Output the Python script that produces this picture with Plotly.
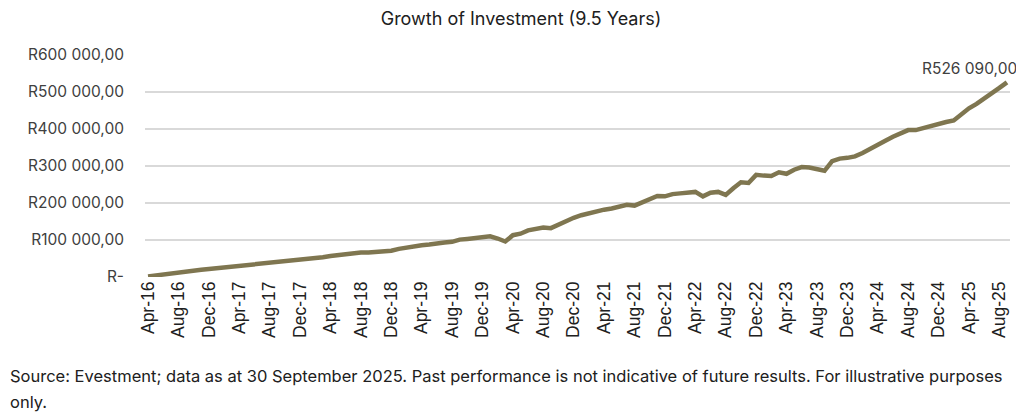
import plotly.graph_objects as go
import pandas as pd

# monthly points, Apr-16 .. Sep-25
months = [d.strftime("%b-%y") for d in pd.date_range("2016-04-01", "2025-09-01", freq="MS")]

values = [
    1600, 4500, 7500, 10000, 12500, 15500, 17500, 19500, 21500, 23500,
    25500, 27500, 29000, 31000, 33000, 35500, 38000, 41000, 44000, 45500,
    47000, 48500, 51000, 53500, 57000, 59500, 62000, 66000, 66000, 66500,
    67000, 67500, 71000, 76000, 80000, 84000, 86000, 88000, 92000, 93500,
    95000, 101000, 103000, 105000, 109000, 110000, 104000, 96000, 113000, 117000,
    126000, 131000, 134000, 132000, 142000, 152000, 160000, 167000, 173000, 178000,
    182000, 185000, 190000, 195000, 193000, 201000, 210000, 219000, 218000, 224000,
    226000, 227000, 230000, 218000, 228000, 230000, 222000, 240000, 256000, 254000,
    276000, 274000, 273000, 283000, 279000, 290000, 297000, 296000, 290000, 287000,
    313000, 320000, 322000, 326000, 335000, 345000, 356000, 368000, 379000, 388000,
    397000, 397000, 403000, 409000, 414000, 419000, 423000, 440000, 456000, 468000,
    482000, 494000, 511000, 526090,
]

y_ticks = [0, 100000, 200000, 300000, 400000, 500000, 600000]
y_labels = ["R-", "R100 000,00", "R200 000,00", "R300 000,00",
            "R400 000,00", "R500 000,00", "R600 000,00"]

end_label = "R526 090,00"
title = "Growth of Investment (9.5 Years)"
foot_lines = [
    "Source: Evestment; data as at 30 September 2025. Past performance is not "
    "indicative of future results. For illustrative purposes",
    "only.",
]

line_color = "#7f7650"
text_color = "#404040"
font = "Inter, sans-serif"

# the page body has an 8px margin, so the figure is drawn 8px in from the top-left
W, H = 1016, 409
ml, mr, mt, mb = 137, 14, 47, 139.5

fig = go.Figure()
fig.add_trace(go.Scatter(
    x=months,
    y=values,
    mode="lines",
    line=dict(color=line_color, width=4.5),
    hoverinfo="x+y",
))

fig.add_annotation(
    x=months[-1], y=values[-1],
    text=end_label,
    showarrow=False,
    xanchor="right", yanchor="bottom",
    xshift=12, yshift=2,
    font=dict(family=font, size=15.5, color=text_color),
)

# footnote lines, placed in figure pixels from the top-left
plot_w = W - ml - mr
plot_h = H - mt - mb
for txt, py in zip(foot_lines, [369, 395]):
    fig.add_annotation(
        x=(0 - ml) / plot_w, y=(H - mb - py) / plot_h,
        xref="paper", yref="paper",
        xanchor="left", yanchor="middle",
        text=txt, showarrow=False,
        font=dict(family=font, size=16.5, color="#202020"),
    )

fig.update_layout(
    width=W, height=H,
    margin=dict(l=ml, r=mr, t=mt, b=mb, autoexpand=False),
    paper_bgcolor="white",
    plot_bgcolor="white",
    showlegend=False,
    title=dict(text=title, x=513 / W, xanchor="center", y=1 - 11 / H, yanchor="middle",
               font=dict(family=font, size=18, color="#202020")),
    xaxis=dict(
        type="category",
        automargin=False,
        range=[-0.4, len(months) - 0.6],
        tickmode="array",
        tickvals=months[::4],
        ticktext=months[::4],
        tickangle=-90,
        showgrid=False,
        showline=False,
        ticks="",
        tickfont=dict(family="Liberation Sans, Arial, sans-serif", size=17.5, color="#202020"),
    ),
    yaxis=dict(
        automargin=False,
        range=[0, 600000],
        tickmode="array",
        tickvals=y_ticks,
        ticktext=y_labels,
        showgrid=True,
        gridcolor="#d9d9d9",
        gridwidth=1.5,
        zeroline=False,
        ticks="",
        ticklabelstandoff=20,
        tickfont=dict(family=font, size=15.5, color=text_color),
    ),
)

fig.write_html("out.html")
